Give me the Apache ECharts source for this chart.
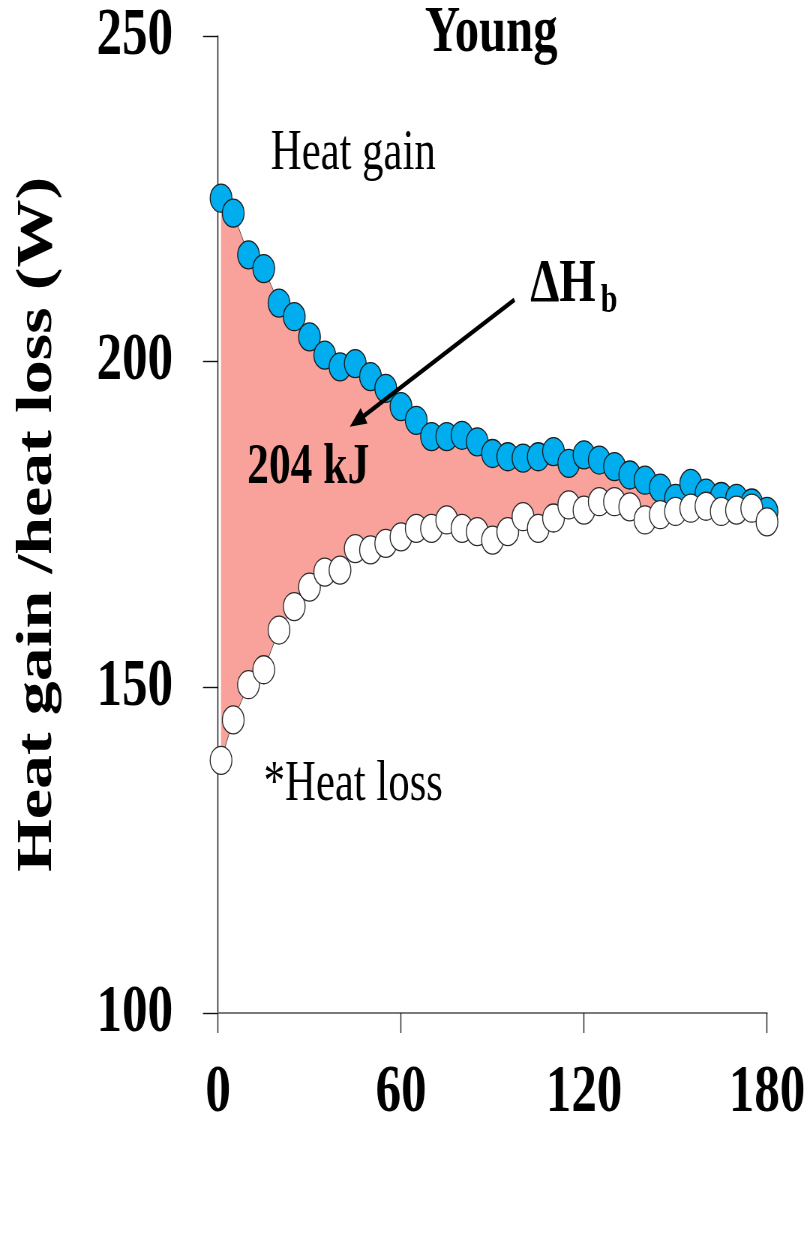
<!DOCTYPE html>
<html>
<head>
<meta charset="utf-8">
<script src="https://cdn.jsdelivr.net/npm/echarts@6/dist/echarts.min.js"></script>
<style>
  html, body { margin: 0; padding: 0; background: #fff; overflow: hidden; }
  #wrap { width: 812px; height: 1248px; overflow: hidden; position: relative; }
  /* the figure is drawn in a wider box and squeezed horizontally */
  #chart { position: absolute; left: 0; top: 0; width: 1083px; height: 1248px;
           transform: scaleX(0.75); transform-origin: 0 0; }
</style>
</head>
<body>
<div id="wrap"><div id="chart"></div></div>
<script>
// Time after start of exercise (min)
const timeMin = [1, 5, 10, 15, 20, 25, 30, 35, 40, 45, 50, 55, 60, 65, 70, 75, 80, 85, 90,
  95, 100, 105, 110, 115, 120, 125, 130, 135, 140, 145, 150, 155, 160, 165, 170, 175, 180];

// Whole-body heat gain (W)
const heatGain = [225.1, 222.8, 216.4, 214.3, 209.0, 206.9, 203.8, 201.0, 199.2, 199.7,
  197.7, 195.9, 193.1, 191.0, 188.5, 188.5, 188.7, 187.7, 185.9, 185.4, 185.2, 185.4,
  186.2, 184.4, 185.7, 184.9, 183.9, 182.6, 181.8, 180.6, 179.0, 181.3, 179.8, 179.3,
  179.0, 178.3, 177.0];

// Whole-body heat loss (W)
const heatLoss = [138.8, 145.0, 150.4, 152.7, 158.8, 162.4, 165.4, 167.7, 168.0, 171.3,
  171.1, 172.1, 173.1, 174.4, 174.4, 175.7, 174.4, 173.9, 172.6, 173.9, 176.2, 174.4,
  176.0, 178.0, 177.2, 178.5, 178.5, 177.7, 175.7, 176.5, 177.0, 177.5, 177.8, 177.0,
  177.2, 177.5, 175.4];

// Axis ranges and ticks
const xRange = [0, 180], xStep = 60;
const yRange = [100, 250], yStep = 50;

// Texts
const panelTitle = 'Young';
const yTitle = 'Heat gain /heat loss (W)';
const gainText = 'Heat gain';
const lossText = '*Heat loss';
const storageText = '204 kJ';
const deltaText = 'ΔH';
const deltaSub = 'b';

// Arrow from the ΔHb label into the shaded area (data units)
const arrowFrom = [97.2, 209.5];
const arrowTo = [43.2, 190.0];

const SERIF = '"Liberation Serif", "Times New Roman", serif';

const chart = echarts.init(document.getElementById('chart'), null, { renderer: 'canvas' });

const option = {
  animation: false,
  backgroundColor: '#fff',
  grid: { left: 290.67, top: 36, width: 732, height: 977, containLabel: false },
  xAxis: {
    type: 'value', min: xRange[0], max: xRange[1], interval: xStep,
    axisLine: { show: true, onZero: false, lineStyle: { color: '#7a7a7a', width: 2 } },
    axisTick: { show: true, inside: false, length: 20, lineStyle: { color: '#222', width: 1.4 } },
    axisLabel: { margin: 46, fontSize: 68, fontWeight: 'bold', color: '#000', fontFamily: SERIF },
    splitLine: { show: false }
  },
  yAxis: {
    type: 'value', min: yRange[0], max: yRange[1], interval: yStep,
    axisLine: { show: true, onZero: false, lineStyle: { color: '#111', width: 1.4 } },
    axisTick: { show: true, inside: false, length: 20, lineStyle: { color: '#111', width: 1.4 } },
    axisLabel: { margin: 60, fontSize: 68, fontWeight: 'bold', color: '#000', fontFamily: SERIF },
    splitLine: { show: false },
    name: yTitle, nameLocation: 'middle', nameRotate: 90, nameGap: 206,
    nameTextStyle: { fontSize: 68, fontWeight: 'bold', color: '#000', fontFamily: SERIF }
  },
  series: [
    {
      // shaded band between heat gain and heat loss
      type: 'custom', coordinateSystem: 'cartesian2d', silent: true, z: 1,
      data: [[timeMin[0], heatGain[0]]],
      renderItem: function (params, api) {
        const pts = [];
        for (let i = 0; i < timeMin.length; i++) pts.push(api.coord([timeMin[i], heatGain[i]]));
        for (let i = timeMin.length - 1; i >= 0; i--) pts.push(api.coord([timeMin[i], heatLoss[i]]));
        return { type: 'polygon', shape: { points: pts }, style: { fill: '#F8A29B' } };
      }
    },
    {
      name: gainText, type: 'line', z: 2,
      data: timeMin.map((t, i) => [t, heatGain[i]]),
      symbol: 'circle', symbolSize: [29, 28], showSymbol: true, showAllSymbol: true,
      lineStyle: { color: '#555', width: 1 },
      itemStyle: { color: '#00AEEF', borderColor: '#1b1b1b', borderWidth: 1.3 },
      emphasis: { disabled: true }
    },
    {
      name: lossText, type: 'line', z: 3,
      data: timeMin.map((t, i) => [t, heatLoss[i]]),
      symbol: 'circle', symbolSize: [29, 28], showSymbol: true, showAllSymbol: true,
      lineStyle: { color: '#555', width: 1 },
      itemStyle: { color: '#ffffff', borderColor: '#2a2a2a', borderWidth: 1.3 },
      emphasis: { disabled: true }
    }
  ]
};
chart.setOption(option);

function txt(x, y, text, font, align) {
  return {
    type: 'text', x: x, y: y, z: 10,
    style: {
      text: text, font: font, fill: '#000',
      align: align || 'center', textAlign: align || 'center',
      verticalAlign: 'middle', textVerticalAlign: 'middle'
    }
  };
}

// arrow geometry in pixels
const p0 = chart.convertToPixel({ gridIndex: 0 }, arrowFrom);
const p1 = chart.convertToPixel({ gridIndex: 0 }, arrowTo);
const dx = p1[0] - p0[0], dy = p1[1] - p0[1];
const len = Math.sqrt(dx * dx + dy * dy);
const ux = dx / len, uy = dy / len;
const headLen = 22, headHalf = 9;
const bx = p1[0] - ux * headLen, by = p1[1] - uy * headLen;

chart.setOption({
  graphic: [
    txt(655, 34, panelTitle, 'bold 65px ' + SERIF),
    txt(471, 154, gainText, '57px ' + SERIF),
    txt(707, 285, deltaText, 'bold 62px ' + SERIF, 'left'),
    txt(801, 302, deltaSub, 'bold 40px ' + SERIF, 'left'),
    txt(411, 468, storageText, 'bold 58px ' + SERIF),
    txt(471, 785, lossText, '57px ' + SERIF),
    {
      type: 'line', z: 10,
      shape: { x1: p0[0], y1: p0[1], x2: bx + ux * 2, y2: by + uy * 2 },
      style: { stroke: '#000', lineWidth: 4.5 }
    },
    {
      type: 'polygon', z: 10,
      shape: { points: [
        [p1[0], p1[1]],
        [bx - uy * headHalf, by + ux * headHalf],
        [bx + uy * headHalf, by - ux * headHalf]
      ] },
      style: { fill: '#000' }
    }
  ]
});
</script>
</body>
</html>
